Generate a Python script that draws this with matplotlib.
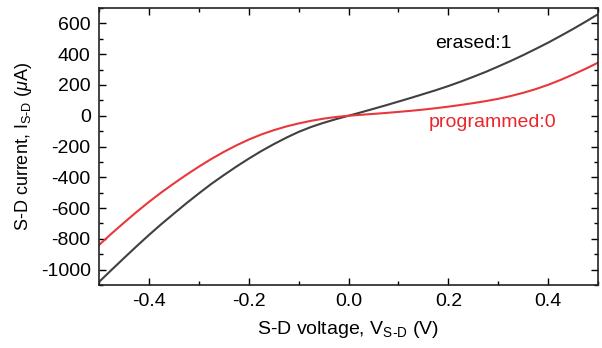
import numpy as np
import matplotlib.pyplot as plt
from matplotlib.ticker import MultipleLocator

plt.rcParams['font.family'] = ['Liberation Sans', 'DejaVu Sans']
plt.rcParams['mathtext.fontset'] = 'custom'
plt.rcParams['mathtext.rm'] = 'Liberation Sans'
plt.rcParams['mathtext.it'] = 'Liberation Sans:italic'

# voltage sweep (V) and currents (uA)
voltage = [-0.500, -0.475, -0.450, -0.425, -0.400, -0.375, -0.350, -0.325, -0.300, -0.275,
           -0.250, -0.225, -0.200, -0.175, -0.150, -0.125, -0.100, -0.075, -0.050, -0.025,
           0.000, 0.025, 0.050, 0.075, 0.100, 0.125, 0.150, 0.175, 0.200, 0.225,
           0.250, 0.275, 0.300, 0.325, 0.350, 0.375, 0.400, 0.425, 0.450, 0.475, 0.500]
erased = [-1080, -1002, -925, -849, -775, -704, -636, -569, -505, -443,
          -386, -331, -279, -230, -185, -143, -105, -73, -46, -22,
          0, 22, 45, 68, 92, 116, 141, 166, 193, 222,
          253, 285, 320, 356, 394, 434, 475, 519, 564, 611, 660]
programmed = [-840, -766, -695, -626, -560, -498, -440, -384, -331, -281,
              -235, -193, -155, -122, -94, -70, -50, -33, -19, -8,
              0, 6, 12, 18, 25, 32, 40, 49, 59, 70,
              82, 95, 110, 128, 149, 173, 201, 233, 268, 305, 345]

fig = plt.figure(figsize=(6.02, 3.48), dpi=100)
ax = fig.add_axes([0.1645, 0.181, 0.829, 0.796])

ax.plot(voltage, erased, color='#404040', lw=1.5)
ax.plot(voltage, programmed, color='#e8383d', lw=1.5)

ax.text(0.1725, 441, 'erased:1', color='black', fontsize=14, va='baseline')
ax.text(0.160, -74, 'programmed:0', color='#e8262b', fontsize=14, va='baseline')

ax.set_xlim(-0.5, 0.5)
ax.set_ylim(-1100, 700)
ax.xaxis.set_minor_locator(MultipleLocator(0.1))
ax.yaxis.set_minor_locator(MultipleLocator(100))
ax.set_xticks([-0.4, -0.2, 0.0, 0.2, 0.4])
ax.set_xticklabels(['-0.4', '-0.2', '0.0', '0.2', '0.4'])
ax.set_yticks(range(-1000, 601, 200))
ax.set_yticklabels([str(v) for v in range(-1000, 601, 200)])
ax.tick_params(which='both', direction='in', top=True, right=True, labelsize=14, width=1)
ax.tick_params(which='major', length=5, pad=6)
ax.tick_params(which='minor', length=3)
for s in ax.spines.values():
    s.set_linewidth(1.2)
    s.set_color('#222222')

ax.set_xlabel('S-D voltage, V$_{\\mathrm{S\\text{-}D}}$ (V)', fontsize=14, labelpad=6)
ax.set_ylabel('S-D current, I$_{\\mathrm{S\\text{-}D}}$ ($\\mathit{\\mu}$A)', fontsize=13, labelpad=5)

fig.savefig('out.png', dpi=100)
